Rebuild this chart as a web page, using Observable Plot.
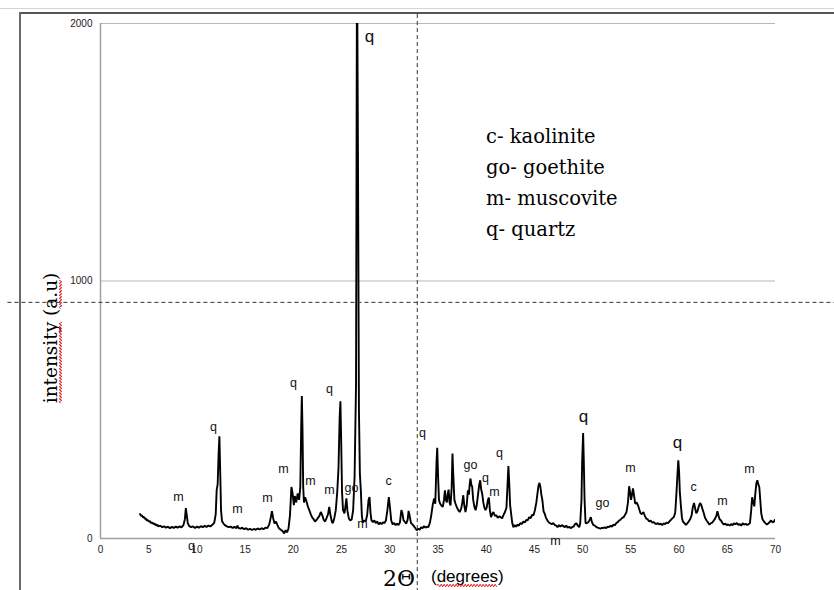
<!DOCTYPE html>
<html>
<head>
<meta charset="utf-8">
<script src="https://cdn.jsdelivr.net/npm/d3@7"></script>
<script src="https://cdn.jsdelivr.net/npm/@observablehq/plot@0.6"></script>
<style>
  html, body { margin: 0; padding: 0; background: #fff; }
  #wrap { position: relative; width: 834px; height: 590px; overflow: hidden; background: #fff; }
  #wrap svg { position: absolute; left: 0; top: 0; }
  .edge { position: absolute; }
</style>
</head>
<body>
<div id="wrap">
  <div class="edge" style="left:0;top:8px;width:834px;height:1px;background:#d4d4d4"></div>
  <div class="edge" style="left:19px;top:12px;width:815px;height:2px;background:#555"></div>
  <div class="edge" style="left:19px;top:12px;width:2px;height:578px;background:#6a6a6a"></div>
</div>
<script>
// ---- data: XRD pattern (2θ in degrees, intensity in a.u.) ----
const twoTheta = [
  4.1,4.2,4.3,4.4,4.5,4.6,4.7,4.8,4.9,5.0,5.1,5.2,5.3,5.4,5.5,5.6,5.7,5.8,5.9,6.0,
  6.2,6.4,6.6,6.8,7.0,7.2,7.4,7.6,7.8,8.0,8.2,8.4,8.6,8.75,8.85,8.95,9.05,9.2,9.4,9.6,
  9.8,10.0,10.2,10.4,10.6,10.8,11.0,11.2,11.4,11.6,11.8,11.95,12.05,12.15,12.25,12.33,12.42,12.5,12.6,12.75,
  12.9,13.1,13.3,13.5,13.7,13.9,14.1,14.2,14.3,14.5,14.7,14.9,15.1,15.3,15.5,15.7,15.9,16.1,16.3,16.5,
  16.7,16.9,17.1,17.3,17.5,17.65,17.78,17.9,18.05,18.2,18.35,18.5,18.7,18.9,19.05,19.2,19.35,19.5,19.65,19.8,
  19.92,20.05,20.15,20.3,20.45,20.6,20.72,20.82,20.88,20.95,21.02,21.1,21.22,21.35,21.5,21.65,21.8,21.95,22.1,22.25,
  22.4,22.55,22.7,22.85,23.0,23.15,23.3,23.45,23.6,23.72,23.85,24.0,24.1,24.25,24.4,24.55,24.68,24.8,24.88,24.95,
  25.05,25.15,25.3,25.4,25.5,25.6,25.75,25.9,26.05,26.2,26.35,26.5,26.6,26.7,26.8,26.9,27.0,27.1,27.2,27.35,
  27.5,27.65,27.8,27.9,28.0,28.1,28.25,28.4,28.55,28.7,28.85,29.0,29.15,29.3,29.45,29.6,29.75,29.9,30.02,30.15,
  30.3,30.45,30.6,30.75,30.9,31.05,31.2,31.3,31.42,31.55,31.7,31.85,31.95,32.05,32.2,32.35,32.5,32.65,32.8,32.95,
  33.1,33.25,33.4,33.55,33.7,33.85,34.0,34.15,34.3,34.45,34.6,34.72,34.85,34.92,35.0,35.1,35.2,35.35,35.5,35.62,
  35.72,35.82,35.92,36.02,36.1,36.2,36.3,36.42,36.5,36.58,36.7,36.82,36.95,37.1,37.25,37.4,37.52,37.62,37.72,37.85,
  37.98,38.1,38.2,38.3,38.37,38.45,38.55,38.65,38.78,38.9,39.02,39.15,39.28,39.38,39.48,39.58,39.7,39.8,39.92,40.05,
  40.18,40.28,40.38,40.5,40.62,40.75,40.9,41.05,41.2,41.35,41.5,41.65,41.8,41.95,42.1,42.2,42.3,42.38,42.48,42.58,
  42.7,42.82,42.95,43.1,43.25,43.4,43.55,43.7,43.85,44.0,44.15,44.3,44.45,44.6,44.75,44.9,45.05,45.2,45.3,45.42,
  45.52,45.62,45.72,45.82,45.95,46.05,46.2,46.35,46.5,46.65,46.8,46.95,47.1,47.25,47.4,47.55,47.7,47.85,48.0,48.15,
  48.3,48.45,48.6,48.75,48.9,49.05,49.2,49.35,49.5,49.65,49.75,49.88,49.95,50.05,50.12,50.2,50.3,50.42,50.55,50.7,
  50.85,50.95,51.1,51.25,51.4,51.55,51.7,51.85,52.0,52.15,52.3,52.45,52.6,52.75,52.9,53.05,53.2,53.35,53.5,53.65,
  53.8,53.95,54.1,54.25,54.4,54.55,54.7,54.82,54.92,55.02,55.12,55.22,55.32,55.45,55.6,55.75,55.9,56.0,56.15,56.3,
  56.45,56.6,56.75,56.9,57.05,57.2,57.35,57.5,57.65,57.8,57.95,58.1,58.25,58.4,58.55,58.7,58.85,59.0,59.15,59.3,
  59.45,59.6,59.72,59.82,59.92,60.0,60.08,60.2,60.3,60.4,60.55,60.7,60.85,61.0,61.15,61.3,61.42,61.55,61.65,61.78,
  61.9,62.05,62.18,62.3,62.42,62.55,62.7,62.85,63.0,63.15,63.3,63.45,63.6,63.75,63.88,63.98,64.08,64.2,64.35,64.5,
  64.65,64.8,64.95,65.1,65.25,65.4,65.55,65.7,65.85,66.0,66.15,66.3,66.45,66.6,66.75,66.9,67.05,67.2,67.35,67.48,
  67.58,67.7,67.8,67.92,68.02,68.12,68.22,68.32,68.42,68.52,68.65,68.8,68.95,69.1,69.25,69.4,69.55,69.7,69.85,69.92
];
const intensity = [
  95,88,90,82,84,76,78,70,72,66,68,61,63,57,60,54,56,50,53,47,
  50,44,47,42,46,40,45,41,46,42,47,43,52,75,118,90,60,48,44,47,
  41,46,42,48,44,49,45,50,47,53,62,95,190,210,330,397,250,110,68,58,
  52,47,44,46,41,45,40,50,41,38,42,36,40,34,38,33,37,34,39,35,
  40,36,42,40,55,80,106,80,58,66,52,40,34,28,20,32,24,40,90,200,
  175,130,165,140,175,150,200,450,553,420,200,140,160,145,125,110,95,82,75,66,
  72,80,88,103,90,72,66,80,95,123,90,64,60,80,110,180,273,470,533,400,
  180,110,98,125,156,110,78,70,74,110,240,600,2300,1500,500,250,187,90,62,70,
  66,90,150,161,100,70,64,70,60,66,55,62,56,63,60,70,110,161,120,70,
  55,60,52,58,52,62,110,100,71,65,58,72,107,90,60,55,48,40,32,38,
  34,44,40,48,42,46,44,60,90,130,156,135,300,352,250,150,137,128,123,150,
  187,150,140,175,190,140,128,200,330,250,150,135,122,110,103,115,140,168,130,103,
  130,187,170,215,233,210,200,150,122,110,130,170,210,226,190,175,140,122,110,120,
  150,159,110,83,95,103,88,90,80,86,83,78,92,103,120,200,281,220,130,98,
  60,44,52,46,54,50,60,56,66,62,72,70,83,78,92,90,110,140,170,205,
  216,200,170,150,105,98,80,70,62,59,55,60,53,50,44,52,46,52,48,44,
  50,42,46,40,44,46,55,59,50,44,60,150,300,410,300,150,60,59,62,70,
  83,65,53,50,45,42,40,38,42,40,44,40,46,44,50,46,54,52,60,64,
  70,74,80,83,92,103,140,203,180,150,170,195,170,135,140,128,110,98,95,103,
  88,77,74,66,70,62,64,59,56,60,54,58,52,59,56,62,60,66,72,78,
  83,100,170,240,304,260,180,122,80,66,60,53,58,66,75,90,120,138,120,98,
  105,125,138,130,115,100,80,70,62,54,60,62,70,78,90,106,90,75,70,60,
  54,58,52,55,50,56,52,59,55,60,53,56,50,59,54,57,53,55,60,110,
  160,140,125,180,215,226,210,200,150,98,75,66,60,54,58,64,70,62,66,72
];

// tick values
const xTicks = [0,5,10,15,20,25,30,35,40,45,50,55,60,65,70];
const yTicks = [0,1000,2000];
const gridLines = [1000,2000];

// phase labels on peaks
const peakText = ["m","q","m","m","m","q","m","q","m","go","m","c","q","go","q","m","q","m","go","m","c","m","m","q"];
const peakX    = [8.09,11.72,14.21,17.32,18.98,20.01,21.78,23.75,23.75,26.03,27.17,29.87,33.39,38.37,39.93,40.86,41.38,47.18,52.06,54.96,61.5,64.5,67.3,9.44];
const peakY    = [160,432,114,157,270,604,222,580,188,196,56,222,409,285,234,180,331,-10,137,273,199,145,269,-30];
// large quartz labels
const bigQText = ["q","q","q"];
const bigQX    = [27.9,50.09,59.84];
const bigQY    = [1951,475,374];

// legend
const legendLines = ["c- kaolinite","go- goethite","m- muscovite","q- quartz"];

// crosshair (dashed guide lines)
const crossX = 32.85;
const crossY = 917;

const trace = twoTheta.map((x, i) => ({x, y: intensity[i]}));
const peaks = peakText.map((t, i) => ({t, x: peakX[i], y: peakY[i]}));
const bigQ = bigQText.map((t, i) => ({t, x: bigQX[i], y: bigQY[i]}));

const chart = Plot.plot({
  width: 834,
  height: 590,
  marginLeft: 100,
  marginRight: 59,
  marginTop: 23,
  marginBottom: 52,
  style: {fontFamily: "'Liberation Sans', Arial, sans-serif", fontSize: "10px", background: "transparent", overflow: "visible", color: "#222"},
  x: {domain: [0, 70], ticks: xTicks, tickSize: 0, tickPadding: 7, label: null, tickFormat: d => String(d)},
  y: {domain: [0, 2000], ticks: yTicks, tickSize: 0, tickPadding: 8, label: null, tickFormat: d => String(d)},
  marks: [
    Plot.ruleY(gridLines, {stroke: "#b8b8b8", strokeWidth: 1.2}),
    Plot.ruleX([0], {y1: 0, y2: 2000, stroke: "#a0a0a0", strokeWidth: 1.5}),
    Plot.ruleY([0], {stroke: "#a0a0a0", strokeWidth: 1.5}),
    Plot.line(trace, {x: "x", y: "y", stroke: "#000", strokeWidth: 1.9, strokeLinejoin: "miter", clip: true}),
    Plot.text(peaks, {x: "x", y: "y", text: "t", fontSize: 12.5, fill: "#111", fontFamily: "'Liberation Sans', Arial, sans-serif"}),
    Plot.text(bigQ, {x: "x", y: "y", text: "t", fontSize: 17, fill: "#111", fontFamily: "'Liberation Sans', Arial, sans-serif"}),
    Plot.ruleX([crossX], {y1: -210, y2: 2040, stroke: "#333", strokeWidth: 1, strokeDasharray: "4,3"}),
    Plot.ruleY([crossY], {x1: -9.6, x2: 76.2, stroke: "#333", strokeWidth: 1, strokeDasharray: "4,3"})
  ]
});

document.getElementById("wrap").appendChild(chart);

const svg = d3.select(chart);

// red wavy "spell-check" underline under characters [i0, i1) of a text element
function wavy(parent, textNode, i0, i1) {
  const a = textNode.getStartPositionOfChar(i0);
  const b = textNode.getEndPositionOfChar(i1 - 1);
  const y = a.y + 3.5;
  const p = d3.path();
  p.moveTo(a.x, y);
  let up = true;
  for (let x = a.x + 1.5; x <= b.x; x += 1.5) { p.lineTo(x, up ? y - 1.3 : y + 1.3); up = !up; }
  parent.append("path").attr("d", p.toString()).attr("fill", "none").attr("stroke", "#e02020").attr("stroke-width", 1);
}

// y axis title
const yg = svg.append("g").attr("transform", "translate(57,338) rotate(-90)");
const yt = yg.append("text")
  .attr("text-anchor", "middle")
  .style("font-family", "'DejaVu Serif', serif")
  .style("font-size", "18.5px")
  .attr("fill", "#000")
  .text("intensity (a.u)");
wavy(yg, yt.node(), 0, 9);
wavy(yg, yt.node(), 11, 14);

// x axis title
svg.append("text")
  .attr("x", 383).attr("y", 586)
  .attr("text-anchor", "start")
  .style("font-family", "'DejaVu Serif', serif")
  .style("font-size", "22px")
  .attr("fill", "#000")
  .text("2Θ");
const xt = svg.append("text")
  .attr("x", 431).attr("y", 582)
  .attr("text-anchor", "start")
  .style("font-family", "'Liberation Sans', Arial, sans-serif")
  .style("font-size", "17px")
  .attr("fill", "#000")
  .text("(degrees)");
wavy(svg, xt.node(), 1, 8);

// legend
const lg = svg.append("g")
  .attr("text-anchor", "start")
  .style("font-family", "'DejaVu Serif', serif")
  .style("font-size", "19.5px")
  .attr("fill", "#000");
lg.selectAll("text").data(legendLines).join("text")
  .attr("x", 486)
  .attr("y", (d, i) => 143 + i * 31)
  .text(d => d);
</script>
</body>
</html>
